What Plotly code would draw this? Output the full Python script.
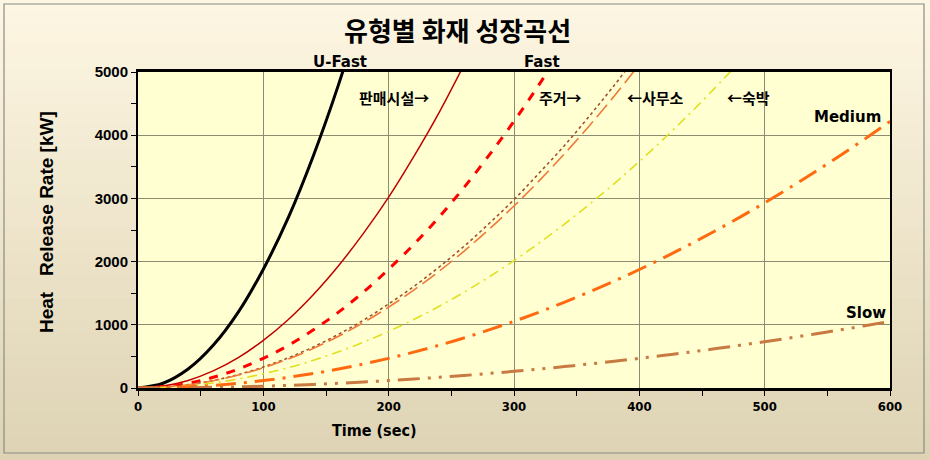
import plotly.graph_objects as go

# ---- data ----
t = [0, 20, 40, 60, 80, 100, 120, 140, 160, 180, 200, 220, 240, 260, 280,
     300, 320, 340, 360, 380, 400, 420, 440, 460, 480, 500, 520, 540, 560, 580, 600]

u_fast = [0, 75, 300, 675, 1200, 1880, 2700, 3680, 4800, 6080]
retail = [0, 30, 120, 270, 480, 755, 1085, 1480, 1935, 2450, 3020, 3660, 4350, 5110]
fast = [0, 19, 75, 169, 300, 470, 675, 920, 1200, 1520, 1880, 2270, 2700, 3170,
        3680, 4220, 4800, 5420]
house = [0, 13, 53, 119, 212, 332, 478, 650, 850, 1075, 1330, 1605, 1910, 2240,
         2600, 2980, 3400, 3830, 4300, 4790, 5310]
office = [0, 13, 51, 115, 205, 320, 460, 627, 820, 1037, 1280, 1550, 1843, 2163,
          2510, 2880, 3277, 3700, 4147, 4620, 5120]
hotel = [0, 9, 36, 80, 143, 224, 322, 440, 573, 726, 896, 1084, 1290, 1514,
         1756, 2016, 2294, 2590, 2904, 3235, 3584, 3952, 4337, 4740, 5161]
medium = [0, 5, 19, 42, 75, 117, 169, 230, 300, 380, 469, 567, 675, 792, 919,
          1055, 1200, 1355, 1519, 1692, 1875, 2067, 2269, 2480, 2700, 2930,
          3169, 3418, 3675, 3942, 4219]
slow = [0, 1, 5, 11, 19, 29, 42, 57, 75, 95, 117, 142, 169, 198, 230, 264, 300,
        339, 380, 423, 469, 517, 567, 620, 675, 733, 792, 854, 919, 986, 1055]

x_ticks = [0, 100, 200, 300, 400, 500, 600]
y_ticks = [0, 1000, 2000, 3000, 4000, 5000]

# curve labels: text, x (sec), y (kW)
labels = [("U-Fast", 161, 5160), ("Fast", 322, 5160), ("판매시설→", 204, 4600),
          ("주거→", 337, 4600), ("←사무소", 413, 4600), ("←숙박", 487, 4600),
          ("Medium", 566, 4290), ("Slow", 581, 1190)]

series = [
    ("U-Fast", u_fast, "#000000", 3, "solid"),
    ("판매시설", retail, "#C00000", 1.5, "solid"),
    ("Fast", fast, "#FF0000", 3, "dash"),
    ("주거", house, "#A0522D", 1.6, "dot"),
    ("사무소", office, "#F07838", 1.6, "16px,6px"),
    ("숙박", hotel, "#E0E020", 1.6, "10px,5px,2px,5px"),
    ("Medium", medium, "#FF6A10", 3, "20px,8px,3px,8px"),
    ("Slow", slow, "#C87A42", 3, "22px,8px,3px,8px,3px,8px"),
]

fig = go.Figure()

# plot geometry (pixels) used for paper-relative placement
L, R, T, B = 138, 890, 72, 388
PW, PH = R - L, B - T


def px(xp):
    return (xp - L) / PW


def py(yp):
    return (B - yp) / PH


# background gradient for the outer panel
n = 40
top_c = (253, 246, 226)
bot_c = (222, 211, 180)
shapes = []
for i in range(n):
    f = i / (n - 1)
    c = tuple(int(round(top_c[k] + (bot_c[k] - top_c[k]) * f)) for k in range(3))
    shapes.append(dict(type="rect", xref="paper", yref="paper", layer="below",
                       x0=-0.2, x1=1.2,
                       y1=py(i * 460 / n) + 0.002,
                       y0=py((i + 1) * 460 / n) - 0.002,
                       fillcolor="rgb(%d,%d,%d)" % c, line=dict(width=0)))
shapes.append(dict(type="rect", xref="paper", yref="paper", layer="below",
                   x0=px(4), x1=px(924), y0=py(453), y1=py(4),
                   line=dict(color="#8A8A8A", width=1.2), fillcolor="rgba(0,0,0,0)"))
shapes.append(dict(type="rect", xref="paper", yref="paper", layer="below",
                   x0=0, x1=1, y0=0, y1=1, fillcolor="#FFFFD2", line=dict(width=0)))

for name, vals, color, w, dash in series:
    fig.add_trace(go.Scatter(x=t[:len(vals)], y=vals, mode="lines", name=name,
                             line=dict(color=color, width=w, dash=dash, shape="spline"),
                             showlegend=False))


def ann(text, xp, yp, fam, size, angle=0):
    return dict(x=px(xp), y=py(yp), xref="paper", yref="paper", text=text,
                showarrow=False, xanchor="center", yanchor="middle", textangle=angle,
                font=dict(family=fam, size=size, color="#000000"))


annotations = []
for txt, x, y in labels:
    is_ko = any(ord(ch) > 0x3000 for ch in txt)
    fam = "Noto Sans CJK KR" if is_ko else "DejaVu Sans"
    annotations.append(ann("<b>%s</b>" % txt, L + x * PW / 600, B - y * PH / 5000,
                           fam, 15))
# axis titles and chart title
annotations.append(ann("<b>Time (sec)</b>", 374, 430,
                       "DejaVu Sans Condensed, Liberation Sans Narrow", 16))
annotations.append(ann("<b>Heat   Release Rate [kW]</b>", 46, 222,
                       "Liberation Sans", 19, -90))
annotations.append(ann("<b>유형별 화재 성장곡선</b>", 457, 30, "Noto Sans CJK KR", 26))

fig.update_layout(
    width=930, height=460,
    margin=dict(l=L, r=930 - R, t=T, b=460 - B),
    paper_bgcolor="rgba(0,0,0,0)",
    plot_bgcolor="rgba(0,0,0,0)",
    shapes=shapes,
    annotations=annotations,
    xaxis=dict(range=[0, 600], tickvals=x_ticks, showgrid=True,
               gridcolor="#8C8C70", gridwidth=1, zeroline=False,
               showline=True, linecolor="#000000", linewidth=2.5, mirror=True,
               ticks="outside", ticklen=5, tickcolor="#000000",
               minor=dict(dtick=50, ticks="outside", ticklen=5, tickcolor="#000000",
                          showgrid=False),
               tickfont=dict(family="DejaVu Sans Condensed, Liberation Sans Narrow",
                             size=13, color="#000000", weight="bold")),
    yaxis=dict(range=[0, 5000], tickvals=y_ticks, showgrid=True,
               gridcolor="#8C8C70", gridwidth=1, zeroline=False,
               showline=True, linecolor="#000000", linewidth=2, mirror=True,
               ticks="outside", ticklen=5, tickcolor="#000000",
               minor=dict(dtick=500, ticks="outside", ticklen=5, tickcolor="#000000",
                          showgrid=False),
               tickfont=dict(family="Liberation Sans", size=15, color="#000000",
                             weight="bold")),
)

fig.write_html("out.html")
